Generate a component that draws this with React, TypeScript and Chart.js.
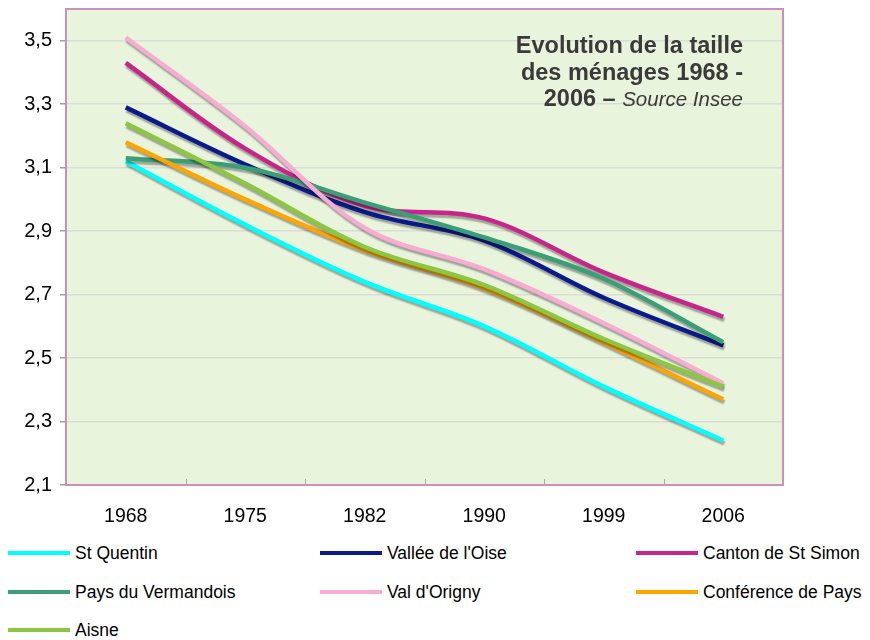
import React, { useEffect, useRef } from "react";
import { Chart, registerables } from "chart.js";

Chart.register(...registerables);

const years = ["1968", "1975", "1982", "1990", "1999", "2006"];
const yTicks = [2.1, 2.3, 2.5, 2.7, 2.9, 3.1, 3.3, 3.5];

const stQuentin = [3.12, 2.92, 2.74, 2.6, 2.41, 2.24];
const valleeOise = [3.29, 3.11, 2.96, 2.87, 2.69, 2.54];
const cantonStSimon = [3.43, 3.16, 2.98, 2.94, 2.77, 2.63];
const paysVermandois = [3.13, 3.1, 2.99, 2.88, 2.75, 2.55];
const valOrigny = [3.51, 3.23, 2.91, 2.78, 2.61, 2.42];
const conferencePays = [3.18, 3.0, 2.84, 2.72, 2.55, 2.37];
const aisne = [3.24, 3.05, 2.85, 2.73, 2.56, 2.41];

const seriesNames = [
  "St Quentin",
  "Vallée de l'Oise",
  "Canton de St Simon",
  "Pays du Vermandois",
  "Val d'Origny",
  "Conférence de Pays",
  "Aisne",
];
const seriesData = [stQuentin, valleeOise, cantonStSimon, paysVermandois, valOrigny, conferencePays, aisne];
const seriesColors = ["#00ffff", "#0a1a8c", "#c8258c", "#3a9e77", "#f9acd3", "#ffa500", "#8dc63f"];

const FONT = "'Liberation Sans', Arial, sans-serif";

const deco = {
  id: "deco",
  beforeDraw(chart: any) {
    const { ctx, chartArea: a } = chart;
    ctx.save();
    ctx.fillStyle = "#e9f4dc";
    ctx.fillRect(a.left, a.top, a.right - a.left, a.bottom - a.top);
    ctx.restore();
  },
  beforeDatasetDraw(chart: any) {
    const ctx = chart.ctx;
    ctx.save();
    ctx.shadowColor = "rgba(0,0,0,0.32)";
    ctx.shadowOffsetX = 1;
    ctx.shadowOffsetY = 3;
    ctx.shadowBlur = 1.5;
  },
  afterDatasetDraw(chart: any) {
    chart.ctx.restore();
  },
  afterDraw(chart: any) {
    const { ctx, chartArea: a } = chart;
    ctx.save();
    ctx.strokeStyle = "#a8a8a8";
    ctx.lineWidth = 1;
    const n = years.length;
    for (let i = 1; i < n; i++) {
      const x = Math.round(a.left + ((a.right - a.left) * i) / n) + 0.5;
      ctx.beginPath();
      ctx.moveTo(x, a.bottom);
      ctx.lineTo(x, a.bottom - 6);
      ctx.stroke();
    }
    ctx.strokeStyle = "#cc8ebc";
    ctx.lineWidth = 2;
    ctx.strokeRect(a.left, a.top, a.right - a.left, a.bottom - a.top);
    ctx.restore();
  },
};

export default function App() {
  const ref = useRef<HTMLCanvasElement | null>(null);

  useEffect(() => {
    document.documentElement.style.overflow = "hidden";
    if (!ref.current) return;
    const chart = new Chart(ref.current, {
      type: "line",
      data: {
        labels: years,
        datasets: seriesNames.map((name, i) => ({
          label: name,
          data: seriesData[i],
          borderColor: seriesColors[i],
          backgroundColor: seriesColors[i],
          borderWidth: 4.5,
          pointRadius: 0,
          tension: 0.35,
          fill: false,
          order: -i,
        })),
      },
      options: {
        animation: false,
        responsive: false,
        layout: { padding: { top: 1, right: 79, bottom: 0, left: 0 } },
        plugins: {
          legend: { display: false },
          title: { display: false },
          tooltip: { enabled: false },
        },
        scales: {
          x: {
            offset: true,
            border: { display: false },
            grid: { display: false, drawTicks: false },
            ticks: {
              color: "#000",
              padding: 20,
              font: { family: FONT, size: 19.5 },
              maxRotation: 0,
            },
            afterFit(scale: any) {
              scale.height = 53;
              scale.paddingLeft = 0;
              scale.paddingRight = 0;
            },
          },
          y: {
            min: 2.1,
            max: 3.6,
            border: { display: false },
            grid: {
              color: "#d9ddd4",
              lineWidth: 1.5,
              tickColor: "#a0a0a0",
              tickLength: 6,
            },
            ticks: {
              color: "#000",
              padding: 8,
              font: { family: FONT, size: 20 },
              callback: (v: any) => Number(v).toFixed(1).replace(".", ","),
            },
            afterBuildTicks(scale: any) {
              scale.ticks = yTicks.map((v) => ({ value: v }));
            },
            afterFit(scale: any) {
              scale.width = 58;
              scale.paddingTop = 0;
              scale.paddingBottom = 0;
            },
          },
        },
      },
      plugins: [deco],
    });
    return () => chart.destroy();
  }, []);

  const legendCols = [0, 312, 628];
  const legendRows = [545, 584, 622];

  return (
    <div style={{ position: "relative", width: 854, height: 632, fontFamily: FONT }}>
      <canvas ref={ref} width={854} height={530} style={{ position: "absolute", left: 0, top: 0 }} />
      <div
        style={{
          position: "absolute",
          right: 119,
          top: 24,
          textAlign: "right",
          fontWeight: "bold",
          fontSize: 23.5,
          lineHeight: "26.5px",
          color: "#3a3a3a",
          whiteSpace: "nowrap",
        }}
      >
        Evolution de la taille
        <br />
        des ménages 1968 -
        <br />
        2006 – <span style={{ fontWeight: "normal", fontStyle: "italic", fontSize: 20.5 }}>Source Insee</span>
      </div>
      {seriesNames.map((name, i) => {
        const col = i % 3;
        const row = Math.floor(i / 3);
        return (
          <div
            key={name}
            style={{
              position: "absolute",
              left: legendCols[col],
              top: legendRows[row] - 10,
              height: 20,
              lineHeight: "20px",
              display: "flex",
              alignItems: "center",
              whiteSpace: "nowrap",
              fontSize: 17.5,
              color: "#000",
            }}
          >
            <span
              style={{
                display: "inline-block",
                width: 62,
                height: 4,
                background: seriesColors[i],
                marginRight: 5,
              }}
            />
            {name}
          </div>
        );
      })}
    </div>
  );
}
